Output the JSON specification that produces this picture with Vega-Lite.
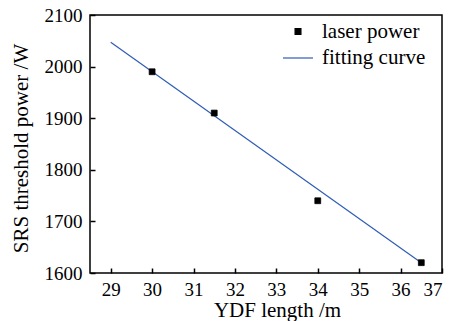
{
  "$schema": "https://vega.github.io/schema/vega-lite/v6.json",
  "width": 352,
  "height": 258,
  "autosize": "none",
  "padding": {"left": 90, "top": 15, "right": 23, "bottom": 48},
  "background": "white",
  "config": {
    "view": {"stroke": "black", "strokeWidth": 1.5},
    "font": "Liberation Serif",
    "axis": {
      "domain": false,
      "grid": false,
      "tickSize": -5,
      "tickColor": "black",
      "tickWidth": 1.5,
      "labelFont": "Liberation Serif",
      "labelFontSize": 18,
      "labelColor": "black",
      "titleFont": "Liberation Serif",
      "titleFontSize": 21,
      "titleFontWeight": "normal",
      "titleColor": "black"
    },
    "legend": {"labelFont": "Liberation Serif"}
  },
  "data": {
    "values": [
      {"series": "laser power", "length": 30, "power": 1990},
      {"series": "laser power", "length": 31.5, "power": 1910},
      {"series": "laser power", "length": 34, "power": 1740},
      {"series": "laser power", "length": 36.5, "power": 1620},
      {"series": "fitting curve", "length": 29, "power": 2047},
      {"series": "fitting curve", "length": 36.5, "power": 1620}
    ]
  },
  "encoding": {
    "x": {
      "field": "length",
      "type": "quantitative",
      "scale": {"domain": [28.5, 37], "nice": false, "zero": false},
      "axis": {"title": "YDF length /m", "format": "d", "values": [29, 30, 31, 32, 33, 34, 35, 36, 37], "labelFont": "Liberation Serif", "labelFontSize": 19, "labelPadding": 12, "titleX": 187, "titleY": 43, "titleBaseline": "alphabetic"}
    },
    "y": {
      "field": "power",
      "type": "quantitative",
      "scale": {"domain": [1600, 2100], "nice": false, "zero": false},
      "axis": {"title": "SRS threshold power /W", "format": "d", "values": [1600, 1700, 1800, 1900, 2000, 2100], "labelFont": "Liberation Serif", "labelFontSize": 19, "labelPadding": 13, "titleX": -63, "titleY": 133, "titleBaseline": "alphabetic"}
    }
  },
  "layer": [
    {
      "transform": [{"filter": "datum.series === 'fitting curve'"}],
      "mark": {"type": "line", "color": "#2f5cb6", "strokeWidth": 1.2}
    },
    {
      "transform": [{"filter": "datum.series === 'laser power'"}],
      "mark": {"type": "point", "filled": true, "opacity": 1, "strokeWidth": 0.8},
      "encoding": {
        "color": {
          "field": "series",
          "type": "nominal",
          "scale": {"domain": ["laser power", "fitting curve"], "range": ["black", "#2f5cb6"]},
          "legend": {
            "title": null,
            "orient": "none",
            "legendX": 192,
            "legendY": 6,
            "labelFontSize": 21,
            "labelFont": "Liberation Serif",
            "labelColor": "black",
            "labelOffset": 8,
            "rowPadding": -8,
            "symbolStrokeWidth": 1.2,
            "symbolOpacity": 1
          }
        },
        "stroke": {
          "field": "series",
          "type": "nominal",
          "scale": {"domain": ["laser power", "fitting curve"], "range": ["black", "#2f5cb6"]}
        },
        "shape": {
          "field": "series",
          "type": "nominal",
          "scale": {"domain": ["laser power", "fitting curve"], "range": ["square", "stroke"]}
        },
        "size": {
          "field": "series",
          "type": "nominal",
          "scale": {"domain": ["laser power", "fitting curve"], "range": [34, 900]}
        }
      }
    }
  ]
}
